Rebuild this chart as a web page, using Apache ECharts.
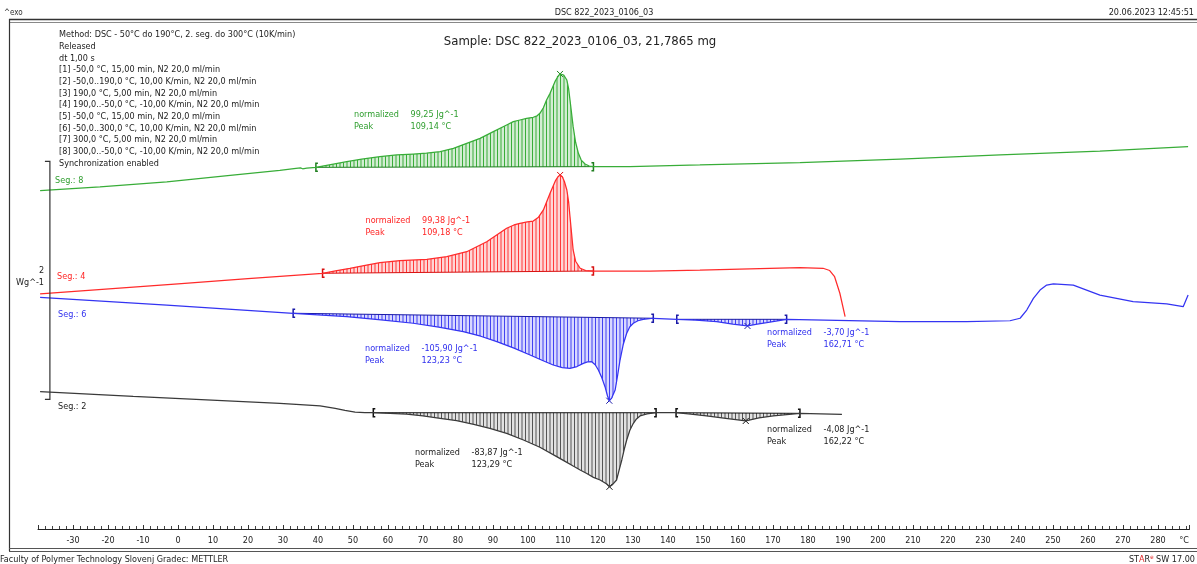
<!DOCTYPE html>
<html>
<head>
<meta charset="utf-8">
<script src="https://cdn.jsdelivr.net/npm/echarts@6/dist/echarts.min.js"></script>
<style>
  html, body { margin: 0; padding: 0; background: #fff; }
  #chart { width: 1197px; height: 564px; }
</style>
</head>
<body>
<div id="chart"></div>
<script>
// DSC heat-flow curves, temperature in °C, heat flow in W/g (stacked display offsets included)
const seg8 = [
  [-39.4, 2.843], [-22.3, 2.876], [-3.2, 2.918], [14.9, 2.971], [29.1, 3.013],
  [33.7, 3.030], [35.0, 3.034], [35.6, 3.027], [36.8, 3.032], [39.4, 3.039],
  [44.0, 3.064], [48.2, 3.087], [52.5, 3.108], [57.7, 3.129], [62.5, 3.143],
  [67.2, 3.151], [71.0, 3.158], [74.9, 3.171], [78.7, 3.199], [82.5, 3.241],
  [86.3, 3.283], [90.1, 3.339], [93.9, 3.395], [95.8, 3.423], [97.7, 3.437],
  [99.6, 3.451], [101.5, 3.460], [102.6, 3.472], [103.4, 3.493], [104.4, 3.540],
  [105.3, 3.605], [106.3, 3.661], [107.7, 3.759], [108.5, 3.800], [109.14, 3.824],
  [110.2, 3.815], [111.1, 3.773], [111.6, 3.700], [112.0, 3.605], [112.9, 3.381],
  [113.6, 3.250], [114.4, 3.157], [115.2, 3.100], [116.3, 3.067], [117.5, 3.050],
  [118.7, 3.045], [129.1, 3.046], [149.1, 3.059], [177.7, 3.078], [206.3, 3.109],
  [234.9, 3.143], [263.4, 3.176], [288.6, 3.213]
];
const seg4 = [
  [-39.4, 1.975], [0, 2.060], [20, 2.103], [41.3, 2.149], [45.0, 2.170],
  [49.1, 2.191], [53.5, 2.216], [57.7, 2.238], [63.4, 2.255], [71.1, 2.266],
  [76.8, 2.288], [82.5, 2.330], [88.2, 2.414], [93.9, 2.527], [96.0, 2.555],
  [97.7, 2.569], [99.8, 2.580], [101.5, 2.588], [103.0, 2.620], [104.4, 2.681],
  [106.3, 2.821], [107.9, 2.930], [108.6, 2.962], [109.18, 2.975], [109.8, 2.960],
  [110.4, 2.920], [111.1, 2.849], [111.6, 2.750], [112.0, 2.624], [112.9, 2.345],
  [113.6, 2.250], [114.9, 2.191], [116.5, 2.172], [118.7, 2.168], [134.9, 2.168],
  [149.1, 2.176], [177.7, 2.196], [184.3, 2.191], [186.2, 2.172], [187.6, 2.120],
  [189.1, 1.981], [190.6, 1.784]
];
const seg6 = [
  [-39.4, 1.947], [-3.2, 1.882], [32.9, 1.813], [48.2, 1.784], [58.0, 1.758],
  [67.2, 1.729], [74.5, 1.697], [81.5, 1.658], [86.5, 1.620], [91.1, 1.574],
  [96.0, 1.520], [100.6, 1.462], [104.0, 1.418], [107.2, 1.378], [109.8, 1.356],
  [112.0, 1.350], [114.0, 1.365], [115.8, 1.392], [117.0, 1.405], [118.2, 1.406],
  [119.2, 1.380], [120.1, 1.336], [121.1, 1.270], [122.0, 1.196], [122.7, 1.120],
  [123.23, 1.078], [123.9, 1.100], [124.9, 1.168], [125.6, 1.290], [126.3, 1.420],
  [127.2, 1.550], [128.2, 1.645], [129.1, 1.700], [130.1, 1.729], [131.4, 1.750],
  [132.9, 1.762], [135.8, 1.771], [142.5, 1.762], [148.0, 1.755], [153.9, 1.742],
  [158.5, 1.722], [162.71, 1.706], [165.5, 1.722], [168.2, 1.734], [173.9, 1.762],
  [206.3, 1.742], [225.3, 1.742], [237.7, 1.750], [240.6, 1.771], [242.5, 1.840],
  [244.4, 1.938], [246.3, 2.008], [248.2, 2.050], [250.1, 2.059], [255.8, 2.050],
  [259.6, 2.008], [263.4, 1.966], [272.9, 1.910], [282.5, 1.891], [287.2, 1.868],
  [288.6, 1.966]
];
const seg2 = [
  [-39.4, 1.154], [-12.8, 1.115], [29.1, 1.056], [34.9, 1.046], [40.6, 1.034],
  [44.9, 1.013], [47.7, 0.996], [50.6, 0.983], [53.4, 0.977], [55.8, 0.977],
  [65.3, 0.966], [70.0, 0.950], [74.9, 0.930], [79.6, 0.910], [84.5, 0.880],
  [89.1, 0.846], [93.9, 0.804], [98.7, 0.748], [103.4, 0.687], [108.2, 0.608],
  [110.6, 0.568], [112.9, 0.529], [114.9, 0.496], [116.8, 0.466], [118.7, 0.434],
  [120.6, 0.412], [122.5, 0.378], [123.29, 0.355], [124.2, 0.375], [125.3, 0.412],
  [126.0, 0.490], [126.8, 0.580], [127.5, 0.670], [128.2, 0.748], [129.1, 0.830],
  [130.1, 0.888], [131.0, 0.925], [132.0, 0.950], [134.0, 0.968], [136.6, 0.977],
  [142.3, 0.977], [146.5, 0.966], [151.0, 0.950], [156.5, 0.930], [162.22, 0.908],
  [166.0, 0.933], [170.1, 0.950], [177.7, 0.972], [189.7, 0.964]
];

const curves = [seg8, seg4, seg6, seg2];
const segNames = ['Seg.: 8', 'Seg.: 4', 'Seg.: 6', 'Seg.: 2'];

// peak integrations: limits, curve, peak temperature and results
const integStart = [39.4, 41.3, 32.9, 142.5, 55.8, 142.3];
const integEnd = [118.7, 118.7, 135.8, 173.9, 136.6, 177.7];
const integCurve = [0, 1, 2, 2, 3, 3];
const peakTemp = [109.14, 109.18, 123.23, 162.71, 123.29, 162.22];
const integralText = ['99,25', '99,38', '-105,90', '-3,70', '-83,87', '-4,08'];
const peakText = ['109,14', '109,18', '123,23', '162,71', '123,29', '162,22'];

// heat-flow scale bar (W/g)
const scaleBarT = -36.6;
const scaleBarFrom = 1.09;
const scaleBarSpan = 2;

const methodLines = [
  'Method: DSC - 50°C do 190°C, 2. seg. do 300°C (10K/min)',
  'Released',
  'dt 1,00 s',
  '[1] -50,0 °C, 15,00 min, N2 20,0 ml/min',
  '[2] -50,0..190,0 °C, 10,00 K/min, N2 20,0 ml/min',
  '[3] 190,0 °C, 5,00 min, N2 20,0 ml/min',
  '[4] 190,0..-50,0 °C, -10,00 K/min, N2 20,0 ml/min',
  '[5] -50,0 °C, 15,00 min, N2 20,0 ml/min',
  '[6] -50,0..300,0 °C, 10,00 K/min, N2 20,0 ml/min',
  '[7] 300,0 °C, 5,00 min, N2 20,0 ml/min',
  '[8] 300,0..-50,0 °C, -10,00 K/min, N2 20,0 ml/min',
  'Synchronization enabled'
];

// ---- styling ----
const FONT = "'DejaVu Sans Condensed', 'DejaVu Sans', sans-serif";
const segStyle = [
  { line: '#38ad38', text: '#2f9e2f', dark: '#1f7f1f', hatch: 'rgba(40,165,40,0.9)', bg: '#d3edd3' },
  { line: '#ff2b2b', text: '#ff2424', dark: '#d81010', hatch: 'rgba(255,40,40,0.9)', bg: '#ffd6d6' },
  { line: '#3434f2', text: '#3030ee', dark: '#1a1aa8', hatch: 'rgba(50,50,240,0.9)', bg: '#d8d8ff' },
  { line: '#3a3a3a', text: '#222222', dark: '#111111', hatch: 'rgba(70,70,70,0.9)', bg: '#e2e2e2' }
];

function makeHatch(st) {
  const c = document.createElement('canvas');
  c.width = 7; c.height = 8;
  const g = c.getContext('2d');
  g.fillStyle = st.bg;
  g.fillRect(0, 0, 7, 8);
  g.strokeStyle = st.hatch;
  g.lineWidth = 1;
  g.beginPath();
  g.moveTo(0.5, 0); g.lineTo(0.5, 8);
  g.moveTo(4.0, 0); g.lineTo(4.0, 8);
  g.stroke();
  return { type: 'pattern', image: c, repeat: 'repeat' };
}
segStyle.forEach(s => { s.pattern = makeHatch(s); });

function bracket(p, dir, color) {
  const h = 4, w = 2;
  return {
    type: 'polyline',
    shape: { points: [[p[0] + dir * w, p[1] - h], [p[0], p[1] - h], [p[0], p[1] + h], [p[0] + dir * w, p[1] + h]] },
    style: { stroke: color, lineWidth: 1.5, fill: null }
  };
}
function cross(p, color) {
  const s = 3;
  return {
    type: 'group',
    children: [
      { type: 'line', shape: { x1: p[0] - s, y1: p[1] - s, x2: p[0] + s, y2: p[1] + s }, style: { stroke: color, lineWidth: 1 } },
      { type: 'line', shape: { x1: p[0] - s, y1: p[1] + s, x2: p[0] + s, y2: p[1] - s }, style: { stroke: color, lineWidth: 1 } }
    ]
  };
}

function renderIntegral(params, api) {
  const i = params.dataIndex;
  const ci = integCurve[i];
  const curve = curves[ci];
  const st = segStyle[ci];
  const pts = curve.filter(p => p[0] >= integStart[i] && p[0] <= integEnd[i]).map(p => api.coord(p));
  const p0 = pts[0], p1 = pts[pts.length - 1];
  const peak = curve.find(p => p[0] === peakTemp[i]);
  return {
    type: 'group',
    children: [
      { type: 'polygon', shape: { points: pts }, style: { fill: st.pattern }, silent: true },
      { type: 'line', shape: { x1: p0[0], y1: p0[1], x2: p1[0], y2: p1[1] }, style: { stroke: st.dark, lineWidth: 1 } },
      bracket(p0, 1, st.dark),
      bracket(p1, -1, st.dark),
      cross(api.coord(peak), st.dark)
    ]
  };
}

function renderScaleBar(params, api) {
  const a = api.coord([scaleBarT, scaleBarFrom]);
  const b = api.coord([scaleBarT, scaleBarFrom + scaleBarSpan]);
  return {
    type: 'polyline',
    shape: { points: [[a[0] - 5, a[1]], [a[0], a[1]], [b[0], b[1]], [b[0] - 5, b[1]]] },
    style: { stroke: '#333', lineWidth: 1.2, fill: null }
  };
}

function txt(text, x, y, color, size, align) {
  return {
    type: 'text', silent: true,
    style: {
      text: text, x: x, y: y, fill: color || '#222',
      font: (size || 9) + 'px ' + FONT,
      align: align || 'left', textAlign: align || 'left',
      verticalAlign: 'middle', textVerticalAlign: 'middle'
    }
  };
}
function hline(x1, x2, y, color, w) {
  return { type: 'line', silent: true, shape: { x1: x1, y1: y, x2: x2, y2: y }, style: { stroke: color, lineWidth: w } };
}
function vline(x, y1, y2, color, w) {
  return { type: 'line', silent: true, shape: { x1: x, y1: y1, x2: x, y2: y2 }, style: { stroke: color, lineWidth: w } };
}

const graphics = [
  // frame
  hline(9, 1197, 19.5, '#333', 1.3),
  hline(9, 1197, 22.5, '#888', 1),
  vline(9.5, 19, 551, '#333', 1.2),
  hline(9, 1197, 548.5, '#555', 1),
  hline(9, 1197, 551.5, '#555', 1),
  // header / footer
  txt('^exo', 4, 13, '#333', 8),
  txt('DSC 822_2023_0106_03', 604, 13, '#222', 9, 'center'),
  txt('20.06.2023 12:45:51', 1194, 13, '#222', 9, 'right'),
  txt('Faculty of Polymer Technology Slovenj Gradec: METTLER', 0, 559.5, '#222', 9),
  {
    type: 'text', silent: true,
    style: {
      text: '{k|ST}{r|A}{k|R}{s|e}{k| SW 17.00}', x: 1195, y: 559.5,
      align: 'right', textAlign: 'right', verticalAlign: 'middle', textVerticalAlign: 'middle',
      rich: {
        k: { fill: '#222', font: '9px ' + FONT },
        r: { fill: '#e02020', font: '9px ' + FONT },
        s: { fill: '#e02020', font: '6px ' + FONT, verticalAlign: 'top', padding: [0, 0, 4, 0] }
      }
    }
  },
  txt('Sample: DSC 822_2023_0106_03, 21,7865 mg', 580, 42, '#222', 13, 'center'),
  // scale bar label
  txt('2', 41.5, 271, '#222', 9, 'center'),
  txt('Wg^-1', 44, 283, '#222', 9, 'right'),
  // x axis unit
  txt('°C', 1184, 541, '#222', 9, 'center')
];
methodLines.forEach((l, i) => graphics.push(txt(l, 59, 35 + i * 11.68, '#222', 9)));

// segment labels
const segLabelPos = [[55, 180.5], [57, 277], [58, 314.5], [58, 407]];
segNames.forEach((n, i) => graphics.push(txt(n, segLabelPos[i][0], segLabelPos[i][1], segStyle[i].text, 9)));

// integration result labels
const resultPos = [[354, 115], [365.5, 220.5], [365, 349], [767, 333], [415, 452.5], [767, 430]];
integralText.forEach((v, i) => {
  const c = segStyle[integCurve[i]].text;
  const [x, y] = resultPos[i];
  graphics.push(txt('normalized', x, y, c, 9));
  graphics.push(txt(v + ' Jg^-1', x + 56.5, y, c, 9));
  graphics.push(txt('Peak', x, y + 11.8, c, 9));
  graphics.push(txt(peakText[i] + ' °C', x + 56.5, y + 11.8, c, 9));
});

const chart = echarts.init(document.getElementById('chart'), null, { renderer: 'canvas' });
chart.setOption({
  animation: false,
  backgroundColor: '#fff',
  grid: { left: 38, right: 7.5, top: 23.25, bottom: 35 },
  xAxis: {
    type: 'value', min: -40, max: 289, interval: 10,
    axisLine: { show: true, lineStyle: { color: '#222', width: 1 } },
    axisTick: { show: true, inside: true, length: 4, lineStyle: { color: '#333' } },
    minorTick: { show: true, splitNumber: 5, length: 3, lineStyle: { color: '#444' } },
    splitLine: { show: false },
    axisLabel: {
      color: '#222', fontSize: 9, fontFamily: FONT, margin: 7,
      showMinLabel: false,
      formatter: v => (v % 10 === 0 && v >= -30 ? String(v) : '')
    }
  },
  yAxis: { type: 'value', min: 0, max: 4.25, show: false },
  series: [
    ...curves.map((c, i) => ({
      type: 'line', data: c, showSymbol: false, smooth: false, z: 3,
      lineStyle: { color: segStyle[i].line, width: 1.25 }, silent: true
    })),
    {
      type: 'custom', renderItem: renderIntegral, z: 2, silent: true,
      data: integStart.map(t => [t, 0]), encode: { x: 0, y: 1 }
    },
    {
      type: 'custom', renderItem: renderScaleBar, z: 4, silent: true, clip: false,
      data: [[scaleBarT, scaleBarFrom]], encode: { x: 0, y: 1 }
    }
  ],
  graphic: graphics
});
</script>
</body>
</html>
